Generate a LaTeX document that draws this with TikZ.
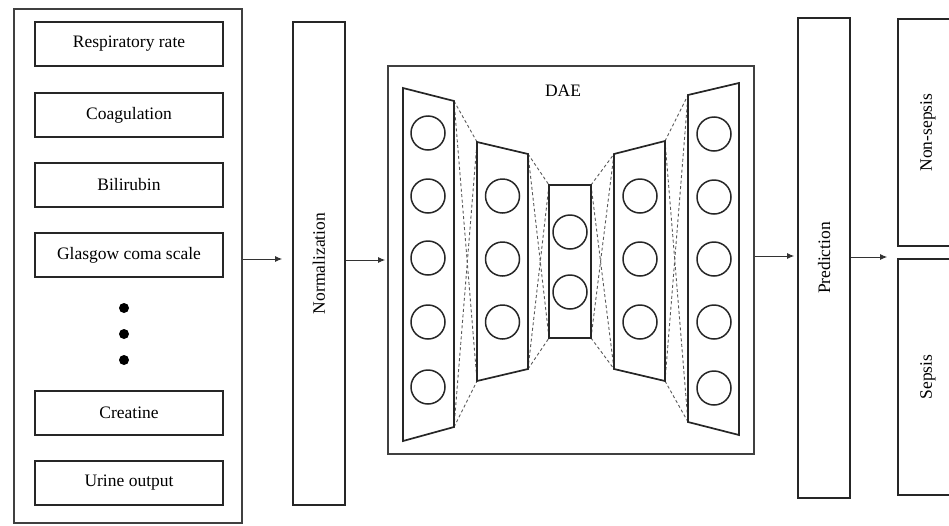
\documentclass[tikz,border=0pt]{standalone}
\usepackage{fontspec}
\setmainfont{Liberation Serif}
\usetikzlibrary{arrows.meta,calc}
\begin{document}
\begin{tikzpicture}[x=1pt,y=-1pt,
  font=\fontsize{17.5}{21}\selectfont,
  line join=miter,
  box/.style={draw=black!85, line width=1.6pt, inner sep=0pt},
  frame/.style={draw=black!75, line width=1.6pt, inner sep=0pt},
  layer/.style={draw=black!85, line width=1.7pt},
  neuron/.style={draw=black!85, line width=1.5pt, ellipse-ish},
  ellipse-ish/.style={circle, minimum size=34pt, inner sep=0pt},
  conn/.style={draw=black!65, line width=0.9pt, dash pattern=on 3pt off 2.5pt},
  arr/.style={draw=black!80, line width=1pt, -{Latex[length=7pt,width=6pt]}},
  dot/.style={circle, fill=black, minimum size=10pt, inner sep=0pt}]
\useasboundingbox (0,0) rectangle (949,525);
\begin{scope}
\clip (0,0) rectangle (949,525);

% left input panel
\node[frame, minimum width=228pt, minimum height=514pt] (inputs) at (128,266) {};
\node[box, minimum width=188pt, minimum height=44pt] (rr) at (129,44) {Respiratory rate};
\node[box, minimum width=188pt, minimum height=44pt] (coag) at (129,115) {Coagulation};
\node[box, minimum width=188pt, minimum height=44pt] (bili) at (129,185) {Bilirubin};
\node[box, minimum width=188pt, minimum height=44pt] (gcs) at (129,255) {Glasgow coma scale};
\node[dot] (d1) at (124,308) {};
\node[dot] (d2) at (124,334) {};
\node[dot] (d3) at (124,360) {};
\node[box, minimum width=188pt, minimum height=44pt] (creat) at (129,413) {Creatine};
\node[box, minimum width=188pt, minimum height=44pt] (urine) at (129,483) {Urine output};

% normalization
\node[box, rotate=90, minimum width=483pt, minimum height=52pt] (norm) at (319,263.5) {Normalization};

% DAE frame
\node[frame, minimum width=366pt, minimum height=388pt] (dae) at (571,260) {};
\node (daelabel) at (563,91) {DAE};

% layers
\coordinate (L1tl) at (403,88);  \coordinate (L1tr) at (454,101);
\coordinate (L1br) at (454,427); \coordinate (L1bl) at (403,441);
\coordinate (L2tl) at (477,142); \coordinate (L2tr) at (528,154);
\coordinate (L2br) at (528,369); \coordinate (L2bl) at (477,381);
\coordinate (L3tl) at (549,185); \coordinate (L3tr) at (591,185);
\coordinate (L3br) at (591,338); \coordinate (L3bl) at (549,338);
\coordinate (L4tl) at (614,154); \coordinate (L4tr) at (665,141);
\coordinate (L4br) at (665,381); \coordinate (L4bl) at (614,369);
\coordinate (L5tl) at (688,95);  \coordinate (L5tr) at (739,83);
\coordinate (L5br) at (739,435); \coordinate (L5bl) at (688,422);

% dashed connections
\foreach \a/\b in {1/2,2/3,3/4,4/5}{
  \draw[conn] (L\a tr) -- (L\b tl);
  \draw[conn] (L\a br) -- (L\b bl);
  \draw[conn] (L\a tr) -- (L\b bl);
  \draw[conn] (L\a br) -- (L\b tl);
}

\foreach \i in {1,...,5}{
  \draw[layer] (L\i tl) -- (L\i tr) -- (L\i br) -- (L\i bl) -- cycle;
}

% neurons
\foreach \y [count=\k] in {133,196,258,322,387}{
  \node[neuron] (n1-\k) at (428,\y) {};
}
\foreach \y [count=\k] in {196,259,322}{
  \node[neuron] (n2-\k) at (502.5,\y) {};
}
\foreach \y [count=\k] in {232,292}{
  \node[neuron] (n3-\k) at (570,\y) {};
}
\foreach \y [count=\k] in {196,259,322}{
  \node[neuron] (n4-\k) at (640,\y) {};
}
\foreach \y [count=\k] in {134,197,259,322,388}{
  \node[neuron] (n5-\k) at (714,\y) {};
}

% prediction
\node[box, rotate=90, minimum width=480pt, minimum height=52pt] (pred) at (824,258) {Prediction};

% outputs
\node[box, rotate=90, minimum width=227pt, minimum height=60pt] (nons) at (928,132.5) {Non-sepsis};
\node[box, rotate=90, minimum width=236pt, minimum height=60pt] (seps) at (928,377) {Sepsis};

% arrows
\draw[arr, shorten >=10pt] (inputs.east |- 0,259) -- (norm.north |- 0,259);
\draw[arr, shorten >=2pt] (norm.south |- 0,260) -- (dae.west |- 0,260);
\draw[arr, shorten >=3pt] (dae.east |- 0,256) -- (pred.north |- 0,256);
\coordinate (split) at ($(nons.north east)!0.5!(seps.north west)$);
\draw[arr, shorten >=10pt] (pred.south |- split) -- (split);
\end{scope}
\end{tikzpicture}
\end{document}
